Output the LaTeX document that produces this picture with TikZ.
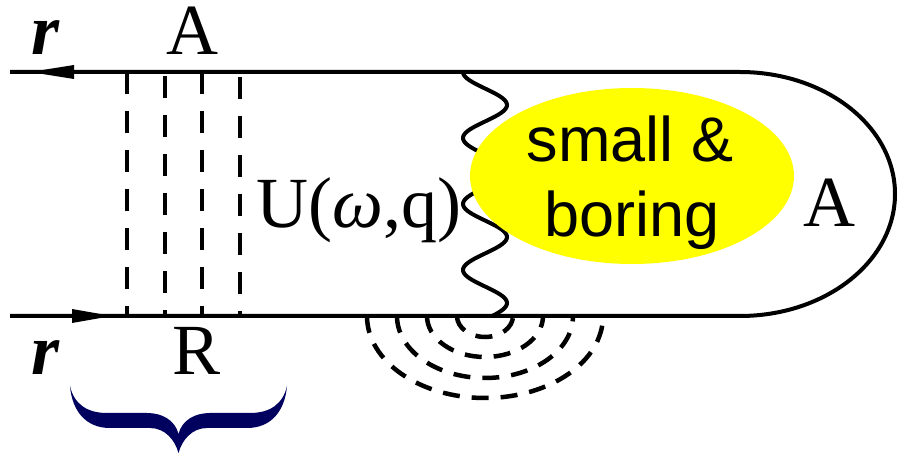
\documentclass[tikz,border=0pt]{standalone}
\usepackage{fontspec}
\setmainfont{Liberation Serif}
\newfontfamily\sansf{Liberation Sans}
\usetikzlibrary{shapes.geometric}
\definecolor{bracenavy}{RGB}{0,0,94}
\definecolor{blobyellow}{RGB}{255,255,0}
\begin{document}
\begin{tikzpicture}[x=1pt,y=1pt,
  mainline/.style={line width=4pt},
  rungline/.style={line width=4.5pt, dash pattern=on 22pt off 17pt},
  haloline/.style={line width=4.5pt, dash pattern=on 17pt off 12pt},
  wiggle/.style={line width=4pt},
  bigserif/.style={font=\fontsize{72}{80}\selectfont, inner sep=0pt, anchor=base},
  bigbold/.style={font=\fontsize{72}{80}\selectfont\bfseries\itshape, inner sep=0pt, anchor=base},
  bigsans/.style={font=\sansf\fontsize{63}{70}\selectfont, inner sep=0pt, anchor=base},
  tipfill/.style={fill=black}]
\useasboundingbox (0,0) rectangle (898,-454);

% outline of the diagram
\coordinate (tl) at (10,-72);
\coordinate (tr) at (740,-72);
\coordinate (bl) at (10,-316);
\draw[mainline] (tl) -- (tr) arc (90:-90:155 and 122) -- (bl);

% arrowheads on the lines
\fill[tipfill] (30,-72) -- (74,-65) -- (74,-79) -- cycle;
\fill[tipfill] (112,-316) -- (72,-309) -- (72,-323) -- cycle;

% dashed rungs
\coordinate (ra1) at (127,-72);  \coordinate (rb1) at (127,-316);
\coordinate (ra2) at (165,-72);  \coordinate (rb2) at (165,-316);
\coordinate (ra3) at (202,-72);  \coordinate (rb3) at (202,-316);
\coordinate (ra4) at (240,-72);  \coordinate (rb4) at (240,-316);
\draw[rungline] (ra1) -- (rb1);
\draw[rungline, dash phase=-4pt] (ra2) -- (rb2);
\draw[rungline] (ra3) -- (rb3);
\draw[rungline, dash phase=-5pt] (ra4) -- (rb4);

% wavy line
\draw[wiggle] plot[domain=0:244, samples=150, smooth] ({485-22*cos(5.4545*\x)}, {-72-\x});

% dashed half ellipses below
\foreach \rx/\ry in {28/21,58/41,88/62,118/82}
  \draw[haloline] (485-\rx,-316) arc (180:360:\rx pt and \ry pt);

% yellow blob
\node[ellipse, fill=blobyellow, minimum width=324pt, minimum height=176pt, inner sep=0pt] (blob) at (632,-176) {};
\node[bigsans] (small) at (630,-162) {small \&};
\node[bigsans] (boring) at (632,-237) {boring};

% labels
\node[bigbold] (rtop) at (46,-55) {r};
\node[bigbold] (rbot) at (46,-375) {r};
\node[bigserif] (atop) at (192,-55) {A};
\node[bigserif] (rlab) at (197,-375) {R};
\node[bigserif] (uwq) at (359,-228) {U(\textit{ω},q)};
\node[bigserif] (aright) at (829,-227) {A};

% brace
\fill[bracenavy] (70,-386) .. controls (72,-410) and (85,-428) .. (110,-428) -- (150,-428)
  .. controls (165,-428) and (175,-440) .. (178.5,-453)
  .. controls (182,-440) and (192,-428) .. (207,-428) -- (247,-428)
  .. controls (272,-428) and (285,-410) .. (287,-386)
  .. controls (283,-404) and (270,-413) .. (250,-413) -- (210,-413)
  .. controls (195,-413) and (182,-420) .. (178.5,-434)
  .. controls (175,-420) and (162,-413) .. (147,-413) -- (107,-413)
  .. controls (87,-413) and (74,-404) .. (70,-386) -- cycle;
\end{tikzpicture}
\end{document}
